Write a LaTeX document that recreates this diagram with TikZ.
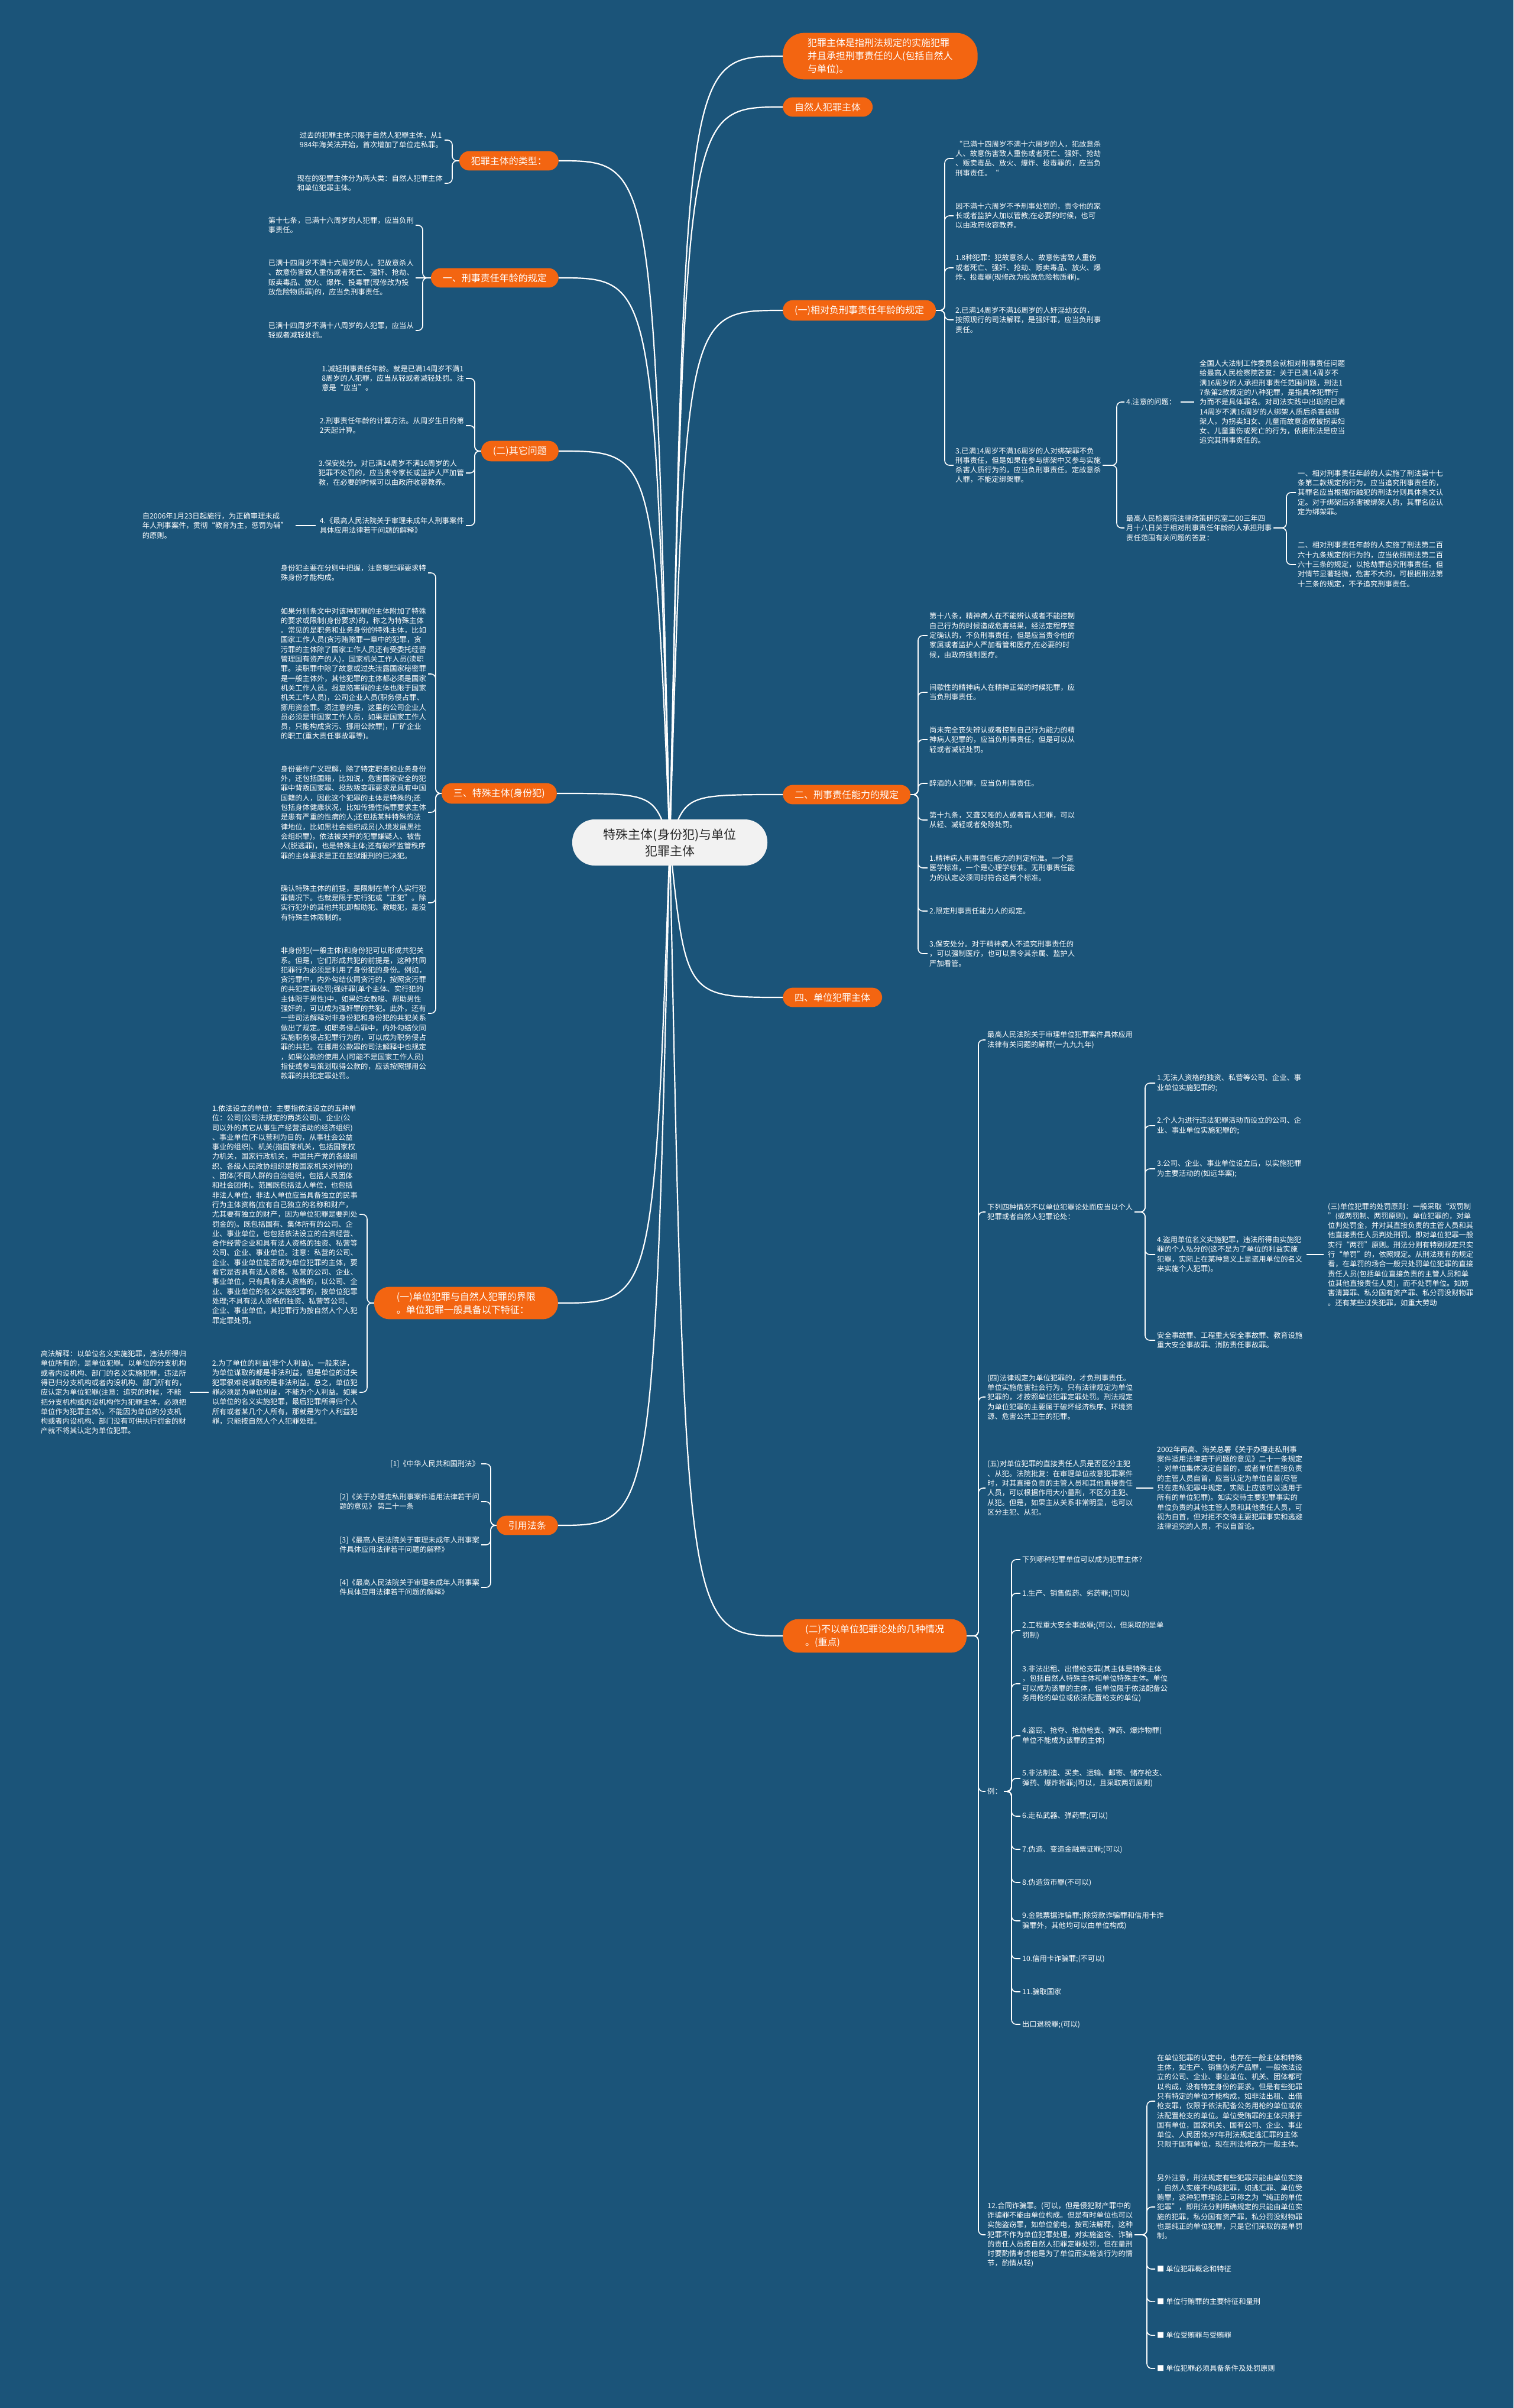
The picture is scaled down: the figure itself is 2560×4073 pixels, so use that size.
\documentclass[tikz,border=0pt]{standalone}
\usepackage{fontspec}
\newfontfamily\cjk{Noto Sans CJK SC}
\usetikzlibrary{calc}
\definecolor{bgc}{RGB}{27,84,121}
\definecolor{org}{RGB}{243,101,17}
\definecolor{ctrf}{RGB}{242,242,242}
\definecolor{ctrt}{RGB}{40,40,40}
\newcommand\mmconn[3]{\draw[bline] (#1) -- (#2) |- (#3);}
\begin{document}
\begin{tikzpicture}[x=1pt,y=-1pt,
  txt/.style={font=\cjk\fontsize{12.3}{16.3}\selectfont, text=white, align=left, inner sep=3pt},
  br/.style={font=\cjk\fontsize{16}{22}\selectfont, text=white, fill=org, rounded corners=17pt, inner xsep=20pt, inner ysep=9pt, align=center},
  br2/.style={br, inner xsep=38pt, rounded corners=26pt, align=left},
  ctr/.style={font=\cjk\fontsize{21}{28}\selectfont, text=ctrt, fill=ctrf, rounded corners=38pt, minimum width=330pt, minimum height=78pt, align=center},
  bline/.style={draw=white, line width=1.6pt, rounded corners=8pt},
  mline/.style={draw=white, line width=2.2pt},
]
\useasboundingbox (0,0) rectangle (2560,4073);
\fill[bgc] (0,0) rectangle (2560,4073);
\coordinate (Cc) at (1133,1425);

% ---------- right branches ----------
\node[br, anchor=west, rounded corners=36pt, inner xsep=42pt, align=left] (R1) at (1324,95) {犯罪主体是指刑法规定的实施犯罪\\并且承担刑事责任的人(包括自然人\\与单位)。};
\node[br, anchor=west] (R2) at (1324,181) {自然人犯罪主体};
\node[br, anchor=west] (R3) at (1324,525) {(一)相对负刑事责任年龄的规定};
\node[br, anchor=west] (R4) at (1324,1344) {二、刑事责任能力的规定};
\node[br, anchor=west] (R5) at (1324,1687) {四、单位犯罪主体};
\node[br2, anchor=west] (R6) at (1324,2767) {(二)不以单位犯罪论处的几种情况\\。(重点)};

% ---------- left branches ----------
\node[br, anchor=east] (L1) at (945,272) {犯罪主体的类型：};
\node[br, anchor=east] (L2) at (945,470) {一、刑事责任年龄的规定};
\node[br, anchor=east] (L3) at (945,763) {(二)其它问题};
\node[br, anchor=east] (L4) at (942,1342) {三、特殊主体(身份犯)};
\node[br2, anchor=east] (L5) at (944,2204) {(一)单位犯罪与自然人犯罪的界限\\。单位犯罪一般具备以下特征：};
\node[br, anchor=east] (L6) at (944,2580) {引用法条};

% ---------- main connectors (from behind the centre) ----------
\foreach \n in {R1,R2,R3,R4,R5,R6}
  {\draw[mline] (Cc) .. controls ($(Cc |- \n.west)+(27,0)$) .. (\n.west);}
\foreach \n in {L1,L2,L3,L4,L5,L6}
  {\draw[mline] (Cc) .. controls ($(Cc |- \n.east)+(-27,0)$) .. (\n.east);}

% ---------- center ----------
\node[ctr] (C) at (Cc) {特殊主体(身份犯)与单位\\犯罪主体};

% ---------- L1 ----------
\node[txt, anchor=east] (L1a) at (752,237) {过去的犯罪主体只限于自然人犯罪主体，从1\\984年海关法开始，首次增加了单位走私罪。};
\node[txt, anchor=east] (L1b) at (752,310) {现在的犯罪主体分为两大类：自然人犯罪主体\\和单位犯罪主体。};
\coordinate (sL1) at (765,272);
\foreach \k in {L1a,L1b} {\mmconn{L1.west}{sL1}{\k.east}}

% ---------- L2 ----------
\node[txt, anchor=east] (L2a) at (703,381) {第十七条，已满十六周岁的人犯罪，应当负刑\\事责任。};
\node[txt, anchor=east] (L2b) at (703,470) {已满十四周岁不满十六周岁的人，犯故意杀人\\、故意伤害致人重伤或者死亡、强奸、抢劫、\\贩卖毒品、放火、爆炸、投毒罪(现修改为投\\放危险物质罪)的，应当负刑事责任。};
\node[txt, anchor=east] (L2c) at (703,559) {已满十四周岁不满十八周岁的人犯罪，应当从\\轻或者减轻处罚。};
\coordinate (sL2) at (715,470);
\foreach \k in {L2a,L2c} {\mmconn{L2.west}{sL2}{\k.east}}
\draw[bline] (L2.west) -- (L2b.east);

% ---------- L3 ----------
\node[txt, anchor=east] (L3a) at (788,640) {1.减轻刑事责任年龄。就是已满14周岁不满1\\8周岁的人犯罪，应当从轻或者减轻处罚。注\\意是“应当”。};
\node[txt, anchor=east] (L3b) at (788,720) {2.刑事责任年龄的计算方法。从周岁生日的第\\2天起计算。};
\node[txt, anchor=east] (L3c) at (788,800) {3.保安处分。对已满14周岁不满16周岁的人\\犯罪不处罚的，应当责令家长或监护人严加管\\教，在必要的时候可以由政府收容教养。};
\node[txt, anchor=east] (L3d) at (788,889) {4.《最高人民法院关于审理未成年人刑事案件\\具体应用法律若干问题的解释》};
\node[txt, anchor=east] (L3dd) at (490,889) {自2006年1月23日起施行，为正确审理未成\\年人刑事案件，贯彻“教育为主，惩罚为辅”\\的原则。};
\coordinate (sL3) at (803,763);
\foreach \k in {L3a,L3b,L3c,L3d} {\mmconn{L3.west}{sL3}{\k.east}}
\draw[bline, shorten <=4pt, shorten >=10pt] (L3d.west) -- (L3dd.east);

% ---------- L4 ----------
\node[txt, anchor=east] (L4a) at (724,969) {身份犯主要在分则中把握，注意哪些罪要求特\\殊身份才能构成。};
\node[txt, anchor=east] (L4b) at (724,1140) {如果分则条文中对该种犯罪的主体附加了特殊\\的要求或限制(身份要求)的，称之为特殊主体\\。常见的是职务和业务身份的特殊主体，比如\\国家工作人员(贪污贿赂罪一章中的犯罪，贪\\污罪的主体除了国家工作人员还有受委托经营\\管理国有资产的人)，国家机关工作人员(渎职\\罪。渎职罪中除了故意或过失泄露国家秘密罪\\是一般主体外，其他犯罪的主体都必须是国家\\机关工作人员。报复陷害罪的主体也限于国家\\机关工作人员)，公司企业人员(职务侵占罪、\\挪用资金罪。须注意的是，这里的公司企业人\\员必须是非国家工作人员，如果是国家工作人\\员，只能构成贪污、挪用公款罪)，厂矿企业\\的职工(重大责任事故罪等)。};
\node[txt, anchor=east] (L4c) at (724,1374) {身份要作广义理解，除了特定职务和业务身份\\外，还包括国籍，比如说，危害国家安全的犯\\罪中背叛国家罪、投敌叛变罪要求是具有中国\\国籍的人，因此这个犯罪的主体是特殊的;还\\包括身体健康状况，比如传播性病罪要求主体\\是患有严重的性病的人;还包括某种特殊的法\\律地位，比如黑社会组织成员(入境发展黑社\\会组织罪)，依法被关押的犯罪嫌疑人、被告\\人(脱逃罪)，也是特殊主体;还有破坏监管秩序\\罪的主体要求是正在监狱服刑的已决犯。};
\node[txt, anchor=east] (L4d) at (724,1527) {确认特殊主体的前提，是限制在单个人实行犯\\罪情况下。也就是限于实行犯或“正犯”。除\\实行犯外的其他共犯即帮助犯、教唆犯，是没\\有特殊主体限制的。};
\node[txt, anchor=east] (L4e) at (724,1714) {非身份犯(一般主体)和身份犯可以形成共犯关\\系。但是，它们形成共犯的前提是，这种共同\\犯罪行为必须是利用了身份犯的身份。例如，\\贪污罪中，内外勾结伙同贪污的，按照贪污罪\\的共犯定罪处罚;强奸罪(单个主体、实行犯的\\主体限于男性)中，如果妇女教唆、帮助男性\\强奸的，可以成为强奸罪的共犯。此外，还有\\一些司法解释对非身份犯和身份犯的共犯关系\\做出了规定。如职务侵占罪中，内外勾结伙同\\实施职务侵占犯罪行为的，可以成为职务侵占\\罪的共犯。在挪用公款罪的司法解释中也规定\\，如果公款的使用人(可能不是国家工作人员)\\指使或参与策划取得公款的，应该按照挪用公\\款罪的共犯定罪处罚。};
\coordinate (sL4) at (737,1342);
\foreach \k in {L4a,L4b,L4c,L4d,L4e} {\mmconn{L4.west}{sL4}{\k.east}}

% ---------- L5 ----------
\node[txt, anchor=east] (L5a) at (608,2054) {1.依法设立的单位：主要指依法设立的五种单\\位：公司(公司法规定的两类公司)、企业(公\\司以外的其它从事生产经营活动的经济组织)\\、事业单位(不以营利为目的，从事社会公益\\事业的组织)、机关(指国家机关，包括国家权\\力机关，国家行政机关，中国共产党的各级组\\织、各级人民政协组织是按国家机关对待的)\\、团体(不同人群的自治组织，包括人民团体\\和社会团体)。范围既包括法人单位，也包括\\非法人单位，非法人单位应当具备独立的民事\\行为主体资格(应有自己独立的名称和财产，\\尤其要有独立的财产，因为单位犯罪是要判处\\罚金的)。既包括国有、集体所有的公司、企\\业、事业单位，也包括依法设立的合资经营、\\合作经营企业和具有法人资格的独资、私营等\\公司、企业、事业单位。注意：私营的公司、\\企业、事业单位能否成为单位犯罪的主体，要\\看它是否具有法人资格。私营的公司、企业、\\事业单位，只有具有法人资格的，以公司、企\\业、事业单位的名义实施犯罪的，按单位犯罪\\处理;不具有法人资格的独资、私营等公司、\\企业、事业单位，其犯罪行为按自然人个人犯\\罪定罪处罚。};
\node[txt, anchor=east] (L5b) at (608,2355) {2.为了单位的利益(非个人利益)。一般来讲，\\为单位谋取的都是非法利益，但是单位的过失\\犯罪很难说谋取的是非法利益。总之，单位犯\\罪必须是为单位利益，不能为个人利益。如果\\以单位的名义实施犯罪，最后犯罪所得归个人\\所有或者某几个人所有，那就是为个人利益犯\\罪，只能按自然人个人犯罪处理。};
\node[txt, anchor=east] (L5bb) at (318,2355) {高法解释：以单位名义实施犯罪，违法所得归\\单位所有的，是单位犯罪。以单位的分支机构\\或者内设机构、部门的名义实施犯罪，违法所\\得已归分支机构或者内设机构、部门所有的，\\应认定为单位犯罪(注意：追究的时候，不能\\把分支机构或内设机构作为犯罪主体，必须把\\单位作为犯罪主体)。不能因为单位的分支机\\构或者内设机构、部门没有可供执行罚金的财\\产就不将其认定为单位犯罪。};
\coordinate (sL5) at (621,2204);
\foreach \k in {L5a,L5b} {\mmconn{L5.west}{sL5}{\k.east}}
\draw[bline, shorten <=3pt, shorten >=3pt] (L5b.west) -- (L5bb.east);

% ---------- L6 ----------
\node[txt, anchor=east] (L6a) at (814,2476) {[1]《中华人民共和国刑法》};
\node[txt, anchor=east] (L6b) at (814,2540) {[2]《关于办理走私刑事案件适用法律若干问\\题的意见》 第二十一条};
\node[txt, anchor=east] (L6c) at (814,2613) {[3]《最高人民法院关于审理未成年人刑事案\\件具体应用法律若干问题的解释》};
\node[txt, anchor=east] (L6d) at (814,2685) {[4]《最高人民法院关于审理未成年人刑事案\\件具体应用法律若干问题的解释》};
\coordinate (sL6) at (830,2580);
\foreach \k in {L6a,L6b,L6c,L6d} {\mmconn{L6.west}{sL6}{\k.east}}

% ---------- R3 ----------
\node[txt, anchor=west] (R3a) at (1613,268) {“已满十四周岁不满十六周岁的人，犯故意杀\\人、故意伤害致人重伤或者死亡、强奸、抢劫\\、贩卖毒品、放火、爆炸、投毒罪的，应当负\\刑事责任。“};
\node[txt, anchor=west] (R3b) at (1613,365) {因不满十六周岁不予刑事处罚的，责令他的家\\长或者监护人加以管教;在必要的时候，也可\\以由政府收容教养。};
\node[txt, anchor=west] (R3c) at (1613,453) {1.8种犯罪：犯故意杀人、故意伤害致人重伤\\或者死亡、强奸、抢劫、贩卖毒品、放火、爆\\炸、投毒罪(现修改为投放危险物质罪)。};
\node[txt, anchor=west] (R3d) at (1613,541) {2.已满14周岁不满16周岁的人奸淫幼女的，\\按照现行的司法解释，是强奸罪，应当负刑事\\责任。};
\node[txt, anchor=west] (R3e) at (1613,787) {3.已满14周岁不满16周岁的人对绑架罪不负\\刑事责任，但是如果在参与绑架中又参与实施\\杀害人质行为的，应当负刑事责任。定故意杀\\人罪，不能定绑架罪。};
\coordinate (sR3) at (1598,525);
\foreach \k in {R3a,R3b,R3c,R3d,R3e} {\mmconn{R3.east}{sR3}{\k.west}}

\node[txt, anchor=west] (R3e1) at (1902,680) {4.注意的问题：};
\node[txt, anchor=west] (R3e1a) at (2026,680) {全国人大法制工作委员会就相对刑事责任问题\\给最高人民检察院答复：关于已满14周岁不\\满16周岁的人承担刑事责任范围问题，刑法1\\7条第2款规定的八种犯罪，是指具体犯罪行\\为而不是具体罪名。对司法实践中出现的已满\\14周岁不满16周岁的人绑架人质后杀害被绑\\架人，为拐卖妇女、儿童而故意造成被拐卖妇\\女、儿童重伤或死亡的行为，依据刑法是应当\\追究其刑事责任的。};
\node[txt, anchor=west] (R3e2) at (1902,893) {最高人民检察院法律政策研究室二00三年四\\月十八日关于相对刑事责任年龄的人承担刑事\\责任范围有关问题的答复：};
\coordinate (sR3e) at (1889,787);
\foreach \k in {R3e1,R3e2} {\mmconn{R3e.east}{sR3e}{\k.west}}
\draw[bline, shorten <=5pt, shorten >=6pt] (R3e1.east) -- (R3e1a.west);

\node[txt, anchor=west] (R3e2a) at (2192,833) {一、相对刑事责任年龄的人实施了刑法第十七\\条第二款规定的行为，应当追究刑事责任的，\\其罪名应当根据所触犯的刑法分则具体条文认\\定。对于绑架后杀害被绑架人的，其罪名应认\\定为绑架罪。};
\node[txt, anchor=west] (R3e2b) at (2192,955) {二、相对刑事责任年龄的人实施了刑法第二百\\六十九条规定的行为的，应当依照刑法第二百\\六十三条的规定，以抢劫罪追究刑事责任。但\\对情节显著轻微，危害不大的，可根据刑法第\\十三条的规定，不予追究刑事责任。};
\coordinate (sR3e2) at (2176,893);
\foreach \k in {R3e2a,R3e2b} {\mmconn{R3e2.east}{sR3e2}{\k.west}}

% ---------- R4 ----------
\node[txt, anchor=west] (R4a) at (1569,1075) {第十八条，精神病人在不能辨认或者不能控制\\自己行为的时候造成危害结果，经法定程序鉴\\定确认的，不负刑事责任，但是应当责令他的\\家属或者监护人严加看管和医疗;在必要的时\\候，由政府强制医疗。};
\node[txt, anchor=west] (R4b) at (1569,1171) {间歇性的精神病人在精神正常的时候犯罪，应\\当负刑事责任。};
\node[txt, anchor=west] (R4c) at (1569,1251) {尚未完全丧失辨认或者控制自己行为能力的精\\神病人犯罪的，应当负刑事责任，但是可以从\\轻或者减轻处罚。};
\node[txt, anchor=west] (R4d) at (1569,1325) {醉酒的人犯罪，应当负刑事责任。};
\node[txt, anchor=west] (R4e) at (1569,1387) {第十九条，又聋又哑的人或者盲人犯罪，可以\\从轻、减轻或者免除处罚。};
\node[txt, anchor=west] (R4f) at (1569,1468) {1.精神病人刑事责任能力的判定标准。一个是\\医学标准，一个是心理学标准。无刑事责任能\\力的认定必须同时符合这两个标准。};
\node[txt, anchor=west] (R4g) at (1569,1541) {2.限定刑事责任能力人的规定。};
\node[txt, anchor=west] (R4h) at (1569,1613) {3.保安处分。对于精神病人不追究刑事责任的\\，可以强制医疗，也可以责令其亲属、监护人\\严加看管。};
\coordinate (sR4) at (1553,1344);
\foreach \k in {R4a,R4b,R4c,R4d,R4e,R4f,R4g,R4h} {\mmconn{R4.east}{sR4}{\k.west}}

% ---------- R6 ----------
\node[txt, anchor=west] (R6a) at (1667,1759) {最高人民法院关于审理单位犯罪案件具体应用\\法律有关问题的解释(一九九九年)};
\node[txt, anchor=west] (R6b) at (1667,2050) {下列四种情况不以单位犯罪论处而应当以个人\\犯罪或者自然人犯罪论处：};
\node[txt, anchor=west] (R6c) at (1667,2363) {(四)法律规定为单位犯罪的，才负刑事责任。\\单位实施危害社会行为，只有法律规定为单位\\犯罪的，才按照单位犯罪定罪处罚。刑法规定\\为单位犯罪的主要属于破坏经济秩序、环境资\\源、危害公共卫生的犯罪。};
\node[txt, anchor=west] (R6d) at (1667,2517) {(五)对单位犯罪的直接责任人员是否区分主犯\\、从犯。法院批复：在审理单位故意犯罪案件\\时，对其直接负责的主管人员和其他直接责任\\人员，可以根据作用大小量刑，不区分主犯、\\从犯。但是，如果主从关系非常明显，也可以\\区分主犯、从犯。};
\node[txt, anchor=west] (R6e) at (1667,3030) {例：};
\node[txt, anchor=west] (R6f) at (1667,3780) {12.合同诈骗罪。(可以，但是侵犯财产罪中的\\诈骗罪不能由单位构成。但是有时单位也可以\\实施盗窃罪，如单位偷电，按司法解释，这种\\犯罪不作为单位犯罪处理，对实施盗窃、诈骗\\的责任人员按自然人犯罪定罪处罚，但在量刑\\时要酌情考虑他是为了单位而实施该行为的情\\节，酌情从轻)};
\coordinate (sR6) at (1655,2767);
\foreach \k in {R6a,R6b,R6c,R6d,R6e,R6f} {\mmconn{R6.east}{sR6}{\k.west}}

% R6b children
\node[txt, anchor=west] (R6b1) at (1954,1832) {1.无法人资格的独资、私营等公司、企业、事\\业单位实施犯罪的;};
\node[txt, anchor=west] (R6b2) at (1954,1904) {2.个人为进行违法犯罪活动而设立的公司、企\\业、事业单位实施犯罪的;};
\node[txt, anchor=west] (R6b3) at (1954,1977) {3.公司、企业、事业单位设立后，以实施犯罪\\为主要活动的(如远华案);};
\node[txt, anchor=west] (R6b4) at (1954,2122) {4.盗用单位名义实施犯罪，违法所得由实施犯\\罪的个人私分的(这不是为了单位的利益实施\\犯罪，实际上在某种意义上是盗用单位的名义\\来实施个人犯罪)。};
\node[txt, anchor=west] (R6b5) at (1954,2267) {安全事故罪、工程重大安全事故罪、教育设施\\重大安全事故罪、消防责任事故罪。};
\coordinate (sR6b) at (1937,2050);
\foreach \k in {R6b1,R6b2,R6b3,R6b4,R6b5} {\mmconn{R6b.east}{sR6b}{\k.west}}
\node[txt, anchor=west] (R6b4a) at (2243,2122) {(三)单位犯罪的处罚原则：一般采取“双罚制\\”(或两罚制、两罚原则)。单位犯罪的，对单\\位判处罚金，并对其直接负责的主管人员和其\\他直接责任人员判处刑罚。即对单位犯罪一般\\实行“两罚”原则。刑法分则有特别规定只实\\行“单罚”的，依照规定。从刑法现有的规定\\看，在单罚的场合一般只处罚单位犯罪的直接\\责任人员(包括单位直接负责的主管人员和单\\位其他直接责任人员)，而不处罚单位。如妨\\害清算罪、私分国有资产罪、私分罚没财物罪\\。还有某些过失犯罪，如重大劳动};
\draw[bline, shorten <=4pt, shorten >=4pt] (R6b4.east) -- (R6b4a.west);

% R6d child
\node[txt, anchor=west] (R6dd) at (1954,2517) {2002年两高、海关总署《关于办理走私刑事\\案件适用法律若干问题的意见》二十一条规定\\：对单位集体决定自首的，或者单位直接负责\\的主管人员自首，应当认定为单位自首(尽管\\只在走私犯罪中规定，实际上应该可以适用于\\所有的单位犯罪)。如实交待主要犯罪事实的\\单位负责的其他主管人员和其他责任人员，可\\视为自首，但对拒不交待主要犯罪事实和逃避\\法律追究的人员，不以自首论。};
\draw[bline, shorten <=3pt, shorten >=3pt] (R6d.east) -- (R6dd.west);

% R6e children
\node[txt, anchor=west] (R6e1) at (1726,2638) {下列哪种犯罪单位可以成为犯罪主体?};
\node[txt, anchor=west] (R6e2) at (1726,2695) {1.生产、销售假药、劣药罪;(可以)};
\node[txt, anchor=west] (R6e3) at (1726,2758) {2.工程重大安全事故罪;(可以，但采取的是单\\罚制)};
\node[txt, anchor=west] (R6e4) at (1726,2848) {3.非法出租、出借枪支罪(其主体是特殊主体\\，包括自然人特殊主体和单位特殊主体。单位\\可以成为该罪的主体，但单位限于依法配备公\\务用枪的单位或依法配置枪支的单位)};
\node[txt, anchor=west] (R6e5) at (1726,2936) {4.盗窃、抢夺、抢劫枪支、弹药、爆炸物罪(\\单位不能成为该罪的主体)};
\node[txt, anchor=west] (R6e6) at (1726,3008) {5.非法制造、买卖、运输、邮寄、储存枪支、\\弹药、爆炸物罪;(可以，且采取两罚原则)};
\node[txt, anchor=west] (R6e7) at (1726,3072) {6.走私武器、弹药罪;(可以)};
\node[txt, anchor=west] (R6e8) at (1726,3128) {7.伪造、变造金融票证罪;(可以)};
\node[txt, anchor=west] (R6e9) at (1726,3184) {8.伪造货币罪(不可以)};
\node[txt, anchor=west] (R6e10) at (1726,3249) {9.金融票据诈骗罪;(除贷款诈骗罪和信用卡诈\\骗罪外，其他均可以由单位构成)};
\node[txt, anchor=west] (R6e11) at (1726,3313) {10.信用卡诈骗罪;(不可以)};
\node[txt, anchor=west] (R6e12) at (1726,3369) {11.骗取国家};
\node[txt, anchor=west] (R6e13) at (1726,3424) {出口退税罪;(可以)};
\coordinate (sR6e) at (1711,3030);
\foreach \k in {R6e1,R6e2,R6e3,R6e4,R6e5,R6e6,R6e7,R6e8,R6e9,R6e10,R6e11,R6e12,R6e13} {\mmconn{R6e.east}{sR6e}{\k.west}}

% R6f children
\node[txt, anchor=west] (R6f1) at (1954,3554) {在单位犯罪的认定中，也存在一般主体和特殊\\主体，如生产、销售伪劣产品罪，一般依法设\\立的公司、企业、事业单位、机关、团体都可\\以构成，没有特定身份的要求。但是有些犯罪\\只有特定的单位才能构成，如非法出租、出借\\枪支罪，仅限于依法配备公务用枪的单位或依\\法配置枪支的单位。单位受贿罪的主体只限于\\国有单位，国家机关、国有公司、企业、事业\\单位、人民团体;97年刑法规定逃汇罪的主体\\只限于国有单位，现在刑法修改为一般主体。};
\node[txt, anchor=west] (R6f2) at (1954,3733) {另外注意，刑法规定有些犯罪只能由单位实施\\，自然人实施不构成犯罪，如逃汇罪、单位受\\贿罪，这种犯罪理论上可称之为“纯正的单位\\犯罪”，即刑法分则明确规定的只能由单位实\\施的犯罪，私分国有资产罪，私分罚没财物罪\\也是纯正的单位犯罪，只是它们采取的是单罚\\制。};
\node[txt, anchor=west] (R6f3) at (1954,3838) {■ 单位犯罪概念和特征};
\node[txt, anchor=west] (R6f4) at (1954,3893) {■ 单位行贿罪的主要特征和量刑};
\node[txt, anchor=west] (R6f5) at (1954,3950) {■ 单位受贿罪与受贿罪};
\node[txt, anchor=west] (R6f6) at (1954,4006) {■ 单位犯罪必须具备条件及处罚原则};
\coordinate (sR6f) at (1940,3780);
\foreach \k in {R6f1,R6f2,R6f3,R6f4,R6f5,R6f6} {\mmconn{R6f.east}{sR6f}{\k.west}}

\end{tikzpicture}
\end{document}
